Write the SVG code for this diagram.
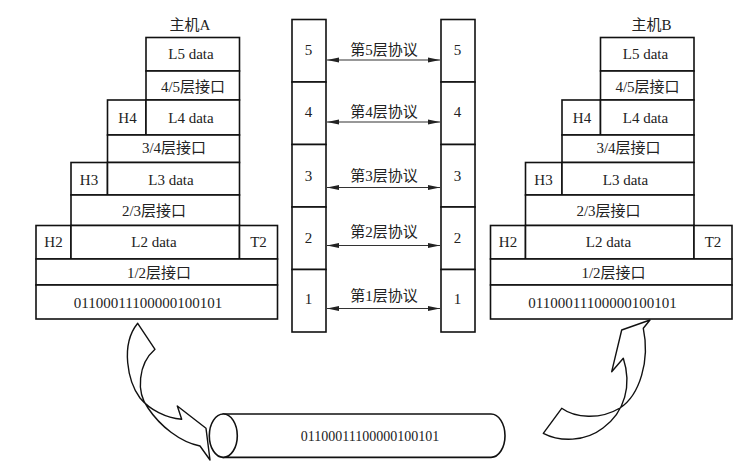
<svg xmlns="http://www.w3.org/2000/svg" width="756" height="467" viewBox="0 0 756 467">
<style>
.b{fill:#fff;stroke:#111;stroke-width:1.6}
.t{font-family:"Liberation Serif","Noto Sans CJK SC",serif;font-size:15px;fill:#222;text-anchor:middle}
.s{font-size:14px}
.c{stroke:#333;stroke-width:1.2;fill:none;marker-start:url(#ah);marker-end:url(#ah)}
.f{fill:#fff;stroke:#111;stroke-width:1.4;stroke-linejoin:round}
</style>
<defs>
<marker id="ah" markerUnits="userSpaceOnUse" markerWidth="13" markerHeight="7" refX="12" refY="3.5" orient="auto-start-reverse">
<path d="M0,1 L12,3.5 L0,6 Z" fill="#222"/>
</marker>
</defs>
<rect width="756" height="467" fill="#fff"/>

<g id="hostA">
<text class="t" x="190" y="30">主机A</text>
<rect class="b" x="146" y="37.5" width="93.5" height="33.5"/>
<text class="t" x="191" y="59">L5 data</text>
<rect class="b" x="146" y="71" width="93.5" height="29"/>
<text class="t" x="193" y="92">4/5层接口</text>
<rect class="b" x="107.5" y="100" width="38.5" height="35"/>
<text class="t" x="127.5" y="123">H4</text>
<rect class="b" x="146" y="100" width="93.5" height="35"/>
<text class="t" x="191" y="123">L4 data</text>
<rect class="b" x="107.5" y="135" width="132" height="27.5"/>
<text class="t" x="174" y="153">3/4层接口</text>
<rect class="b" x="71" y="162.5" width="36.5" height="32.5"/>
<text class="t" x="89" y="185">H3</text>
<rect class="b" x="107.5" y="162.5" width="132" height="32.5"/>
<text class="t" x="171" y="185">L3 data</text>
<rect class="b" x="71" y="195" width="168.5" height="30.5"/>
<text class="t" x="154" y="216">2/3层接口</text>
<rect class="b" x="36" y="225.5" width="35" height="33.5"/>
<text class="t" x="53.5" y="247">H2</text>
<rect class="b" x="71" y="225.5" width="168.5" height="33.5"/>
<text class="t" x="154" y="247">L2 data</text>
<rect class="b" x="239.5" y="225.5" width="38" height="33.5"/>
<text class="t" x="258.5" y="247">T2</text>
<rect class="b" x="36" y="259" width="241.5" height="26"/>
<text class="t" x="159" y="278">1/2层接口</text>
<rect class="b" x="36" y="285" width="241.5" height="34"/>
<text class="t" x="148" y="308">01100011100000100101</text>
</g>

<g id="hostB">
<text class="t" x="651.5" y="30">主机B</text>
<rect class="b" x="600.5" y="37.5" width="93.5" height="33.5"/>
<text class="t" x="645.5" y="59">L5 data</text>
<rect class="b" x="600.5" y="71" width="93.5" height="29"/>
<text class="t" x="647.5" y="92">4/5层接口</text>
<rect class="b" x="562" y="100" width="38.5" height="35"/>
<text class="t" x="582" y="123">H4</text>
<rect class="b" x="600.5" y="100" width="93.5" height="35"/>
<text class="t" x="645.5" y="123">L4 data</text>
<rect class="b" x="562" y="135" width="132" height="27.5"/>
<text class="t" x="628.5" y="153">3/4层接口</text>
<rect class="b" x="525.5" y="162.5" width="36.5" height="32.5"/>
<text class="t" x="543.5" y="185">H3</text>
<rect class="b" x="562" y="162.5" width="132" height="32.5"/>
<text class="t" x="625.5" y="185">L3 data</text>
<rect class="b" x="525.5" y="195" width="168.5" height="30.5"/>
<text class="t" x="608.5" y="216">2/3层接口</text>
<rect class="b" x="490.5" y="225.5" width="35" height="33.5"/>
<text class="t" x="508" y="247">H2</text>
<rect class="b" x="525.5" y="225.5" width="168.5" height="33.5"/>
<text class="t" x="608.5" y="247">L2 data</text>
<rect class="b" x="694" y="225.5" width="38" height="33.5"/>
<text class="t" x="713" y="247">T2</text>
<rect class="b" x="490.5" y="259" width="241.5" height="26"/>
<text class="t" x="613.5" y="278">1/2层接口</text>
<rect class="b" x="490.5" y="285" width="241.5" height="34"/>
<text class="t" x="602.5" y="308">01100011100000100101</text>
</g>

<g id="layersA">
<rect class="b" x="292" y="19.5" width="34" height="62.5"/>
<text class="t" x="308.5" y="54.5">5</text>
<rect class="b" x="292" y="82" width="34" height="62.5"/>
<text class="t" x="308.5" y="117">4</text>
<rect class="b" x="292" y="144.5" width="34" height="62.5"/>
<text class="t" x="308.5" y="181">3</text>
<rect class="b" x="292" y="207" width="34" height="62.5"/>
<text class="t" x="308.5" y="242.5">2</text>
<rect class="b" x="292" y="269.5" width="34" height="62.5"/>
<text class="t" x="308.5" y="303.5">1</text>
</g>

<g id="layersB">
<rect class="b" x="441" y="19.5" width="34" height="62.5"/>
<text class="t" x="457.5" y="54.5">5</text>
<rect class="b" x="441" y="82" width="34" height="62.5"/>
<text class="t" x="457.5" y="117">4</text>
<rect class="b" x="441" y="144.5" width="34" height="62.5"/>
<text class="t" x="457.5" y="181">3</text>
<rect class="b" x="441" y="207" width="34" height="62.5"/>
<text class="t" x="457.5" y="242.5">2</text>
<rect class="b" x="441" y="269.5" width="34" height="62.5"/>
<text class="t" x="457.5" y="303.5">1</text>
</g>

<g id="connectors">
<line class="c" x1="327" y1="60" x2="440" y2="60"/>
<line class="c" x1="327" y1="122" x2="440" y2="122"/>
<line class="c" x1="327" y1="187.5" x2="440" y2="187.5"/>
<line class="c" x1="327" y1="245.5" x2="440" y2="245.5"/>
<line class="c" x1="327" y1="308.5" x2="440" y2="308.5"/>
<text class="t" x="384" y="54.5">第5层协议</text>
<text class="t" x="384" y="117">第4层协议</text>
<text class="t" x="384" y="181">第3层协议</text>
<text class="t" x="384" y="237">第2层协议</text>
<text class="t" x="384" y="300.5">第1层协议</text>
<path class="f" d="M137.7,323.3 L155,349.3 C138,364 136,392 148,408 C160,426 180,442 200,446 L210,460 L206,428.3 L177.3,406 L181.7,419.3 C166,418 150,410 140,398 C128,382 120,345 137.7,323.3 Z"/>
<path class="f" d="M650,320 L621.7,330 L611.7,371.7 L623.3,358.3 C632,385 625,412 603,428 C585,442 560,442 543.3,433.3 L561.7,408.3 C575,418 600,420 620,408 C640,395 650,360 643.3,328.3 Z"/>
</g>

<g id="channel">
<path class="b" d="M223.3,414 L491,414 A14,21.7 0 0 1 491,457.4 L223.3,457.4 Z"/>
<ellipse class="b" cx="223.3" cy="435.7" rx="14" ry="21.7"/>
<text class="t s" x="370" y="441">01100011100000100101</text>
</g>
</svg>
